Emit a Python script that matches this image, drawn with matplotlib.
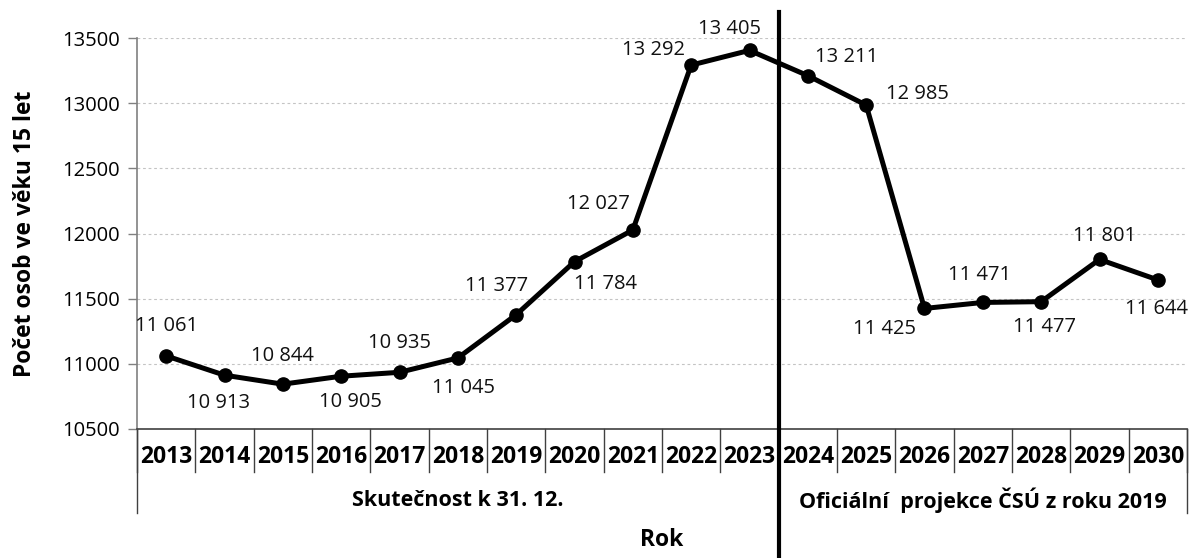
import matplotlib
matplotlib.use("Agg")
import matplotlib.pyplot as plt
from matplotlib.transforms import blended_transform_factory

years = ["2013", "2014", "2015", "2016", "2017", "2018", "2019", "2020", "2021",
         "2022", "2023", "2024", "2025", "2026", "2027", "2028", "2029", "2030"]
values = [11061, 10913, 10844, 10905, 10935, 11045, 11377, 11784, 12027,
          13292, 13405, 13211, 12985, 11425, 11471, 11477, 11801, 11644]
groups = ["Skutečnost k 31. 12.", "Oficiální  projekce ČSÚ z roku 2019"]
group_sizes = [11, 7]
y_ticks = [10500, 11000, 11500, 12000, 12500, 13000, 13500]
y_label = "Počet osob ve věku 15 let"
x_label = "Rok"

# label offsets in pixels (dx right, dy down)
label_offsets = [(0, -30), (-6, 28), (0, -28), (9, 26), (0, -29), (6, 30),
                 (-20, -29), (31, 22), (-34, -26), (-38, -15), (-20, -21),
                 (39, -19), (51, -11), (-40, 21), (-3, -27), (3, 25),
                 (5, -23), (-1, 29)]

plt.rcParams['font.family'] = ['Open Sans', 'DejaVu Sans']

W, H = 1190, 558
fig = plt.figure(figsize=(W / 100, H / 100), dpi=100)
ax_l, ax_r, ax_t, ax_b = 137, 1187, 38, 429
ax = fig.add_axes([ax_l / W, 1 - ax_b / H, (ax_r - ax_l) / W, (ax_b - ax_t) / H])

n = len(years)
xs = [i + 0.5 for i in range(n)]
ax.plot(xs, values, color='black', lw=3.6, marker='o', markersize=9.5,
        solid_joinstyle='round', zorder=3, clip_on=False)

for x, v, (dx, dy) in zip(xs, values, label_offsets):
    ax.annotate(f"{v:,}".replace(",", " "), (x, v), xytext=(dx * 0.72, -dy * 0.72),
                textcoords='offset points', ha='center', va='center',
                fontsize=14.5, color='#111111')

ax.set_xlim(0, n)
ax.set_ylim(10500, 13500)
ax.set_yticks(y_ticks)
ax.set_yticklabels([str(t) for t in y_ticks], fontsize=14.5)
ax.tick_params(axis='y', direction='out', length=6.5, width=1, color='#808080', pad=6)
ax.set_xticks([])
for s in ['top', 'right']:
    ax.spines[s].set_visible(False)
ax.spines['left'].set_color('#808080')
ax.spines['left'].set_linewidth(1.2)
ax.spines['bottom'].set_color('#404040')
ax.spines['bottom'].set_linewidth(1.2)
for t in y_ticks[1:]:
    ax.axhline(t, color='#c4c4c4', lw=0.8, ls=(0, (2.5, 2.5)), zorder=1)

axh = ax_b - ax_t
def ay(px_below):
    return -px_below / axh

tr = blended_transform_factory(ax.transData, ax.transAxes)
# year separators and labels
for i in range(n + 1):
    ax.plot([i, i], [0, ay(43)], transform=tr, color='#404040', lw=1.0, clip_on=False)
for x, yr in zip(xs, years):
    ax.text(x, ay(28), yr, transform=tr, ha='center', va='center',
            fontsize=16.5, fontweight='bold')
# group separators and labels
start = 0
bounds = [0]
for g, size in zip(groups, group_sizes):
    ax.text(start + size / 2, ay(71), g, transform=tr, ha='center', va='center',
            fontsize=15.5, fontweight='bold')
    start += size
    bounds.append(start)
for b in bounds:
    ax.plot([b, b], [0, ay(84)], transform=tr, color='#404040', lw=1.0, clip_on=False)

ax.text(n / 2, ay(111), x_label, transform=tr, ha='center', va='center',
        fontsize=16.5, fontweight='bold')

fig.text(25 / W, 1 - (ax_t + ax_b) / 2 / H, y_label, rotation=90, ha='center',
         va='center', fontsize=16.5, fontweight='bold')

# thick divider between actual and projection
trf = blended_transform_factory(ax.transData, fig.transFigure)
ax.plot([group_sizes[0], group_sizes[0]], [0, 1 - 12 / H], transform=trf,
        color='black', lw=3.0, clip_on=False, zorder=4)

fig.savefig("out.png", dpi=100)
